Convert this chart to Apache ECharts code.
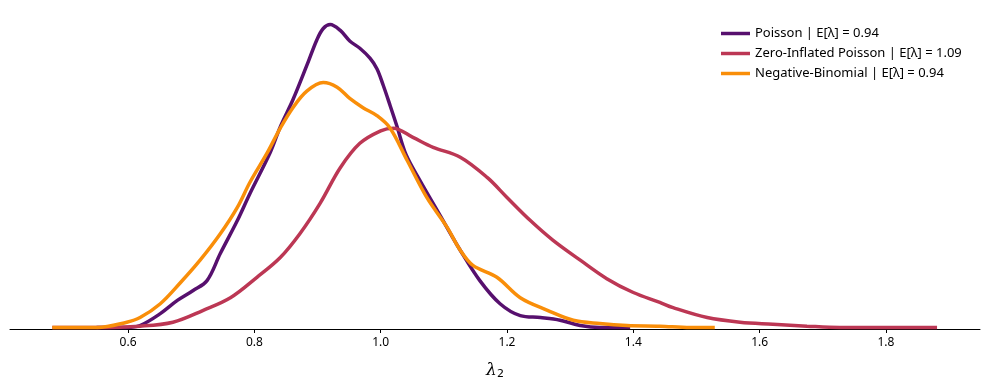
<!DOCTYPE html>
<html lang="en">
<head>
  <meta charset="UTF-8">
  <script src="https://cdn.jsdelivr.net/npm/echarts@6/dist/echarts.min.js"></script>
</head>
<body style="margin:0">
<div id="main" style="width:989px;height:390px;"></div>

<script>
  // kde curves
  var poissonX = [0.55, 0.598, 0.619, 0.651, 0.678, 0.703, 0.725, 0.746, 0.773, 0.793, 0.825, 0.841, 0.861, 0.883, 0.899, 0.909, 0.920, 0.936, 0.951, 0.967, 0.983, 0.994, 1.004, 1.015, 1.026, 1.040, 1.062, 1.094, 1.126, 1.157, 1.189, 1.221, 1.253, 1.284, 1.316, 1.347, 1.395];
  var poissonY = [0, 0, 0.03, 0.21, 0.41, 0.56, 0.71, 1.12, 1.62, 2.03, 2.65, 3.04, 3.45, 3.97, 4.36, 4.53, 4.59, 4.50, 4.34, 4.23, 4.08, 3.92, 3.67, 3.36, 3.04, 2.62, 2.23, 1.70, 1.17, 0.71, 0.36, 0.18, 0.15, 0.11, 0.03, 0, 0];

  var zipX = [0.480, 0.551, 0.619, 0.671, 0.719, 0.762, 0.804, 0.841, 0.872, 0.904, 0.936, 0.967, 1.000, 1.020, 1.051, 1.083, 1.126, 1.169, 1.200, 1.237, 1.273, 1.316, 1.358, 1.400, 1.442, 1.463, 1.517, 1.569, 1.621, 1.675, 1.727, 1.881];
  var zipY = [0, 0, 0.02, 0.08, 0.26, 0.45, 0.76, 1.06, 1.42, 1.88, 2.42, 2.79, 2.98, 3.02, 2.88, 2.73, 2.58, 2.27, 1.97, 1.62, 1.32, 1.02, 0.74, 0.53, 0.38, 0.30, 0.15, 0.08, 0.05, 0.02, 0, 0];

  var nbX = [0.480, 0.551, 0.598, 0.619, 0.651, 0.682, 0.714, 0.746, 0.773, 0.793, 0.820, 0.841, 0.861, 0.883, 0.909, 0.931, 0.951, 0.972, 0.994, 1.015, 1.042, 1.073, 1.105, 1.126, 1.146, 1.184, 1.221, 1.264, 1.305, 1.347, 1.390, 1.442, 1.490, 1.529];
  var nbY = [0, 0, 0.08, 0.15, 0.36, 0.67, 1.02, 1.42, 1.82, 2.20, 2.64, 3.02, 3.33, 3.58, 3.71, 3.64, 3.47, 3.33, 3.21, 3.02, 2.53, 1.97, 1.52, 1.17, 0.94, 0.76, 0.45, 0.26, 0.11, 0.06, 0.03, 0.02, 0, 0];

  var names = ['Poisson | E[λ] = 0.94', 'Zero-Inflated Poisson | E[λ] = 1.09', 'Negative-Binomial | E[λ] = 0.94'];
  var colors = ['#57106e', '#bc3754', '#f98e09'];
  var tickVals = [0.6, 0.8, 1.0, 1.2, 1.4, 1.6, 1.8];

  function pairs(xs, ys){
    var out = [];
    for (var i = 0; i < xs.length; i++){
      out.push([xs[i], ys[i]]);
    }
    return out;
  }

  var main = echarts.init(document.querySelector('#main'));
  var font = 'Noto Sans';

  function line(name, data, color){
    return {
      name: name,
      type: 'line',
      data: data,
      smooth: 0.35,
      symbol: 'none',
      lineStyle: {color: color, width: 3.5},
      itemStyle: {color: color}
    };
  }

  main.setOption({
    animation: false,
    grid: {left: 10, right: 9, top: 10, bottom: 61},
    legend: {
      data: names,
      orient: 'vertical',
      left: 716,
      top: 22,
      icon: 'path://M0,0 L30,0 L30,3.6 L0,3.6 Z',
      itemWidth: 29,
      itemHeight: 14,
      itemGap: 7,
      itemTextGap: 13,
      textStyle: {fontFamily: font, fontSize: 13, color: '#000'}
    },
    xAxis: {
      type: 'value',
      min: 0.413,
      max: 1.949,
      name: '{a|λ}{b|2}',
      nameLocation: 'middle',
      nameGap: 32,
      nameTextStyle: {
        rich: {
          a: {fontFamily: 'DejaVu Serif', fontStyle: 'italic', fontSize: 17, color: '#000'},
          b: {fontFamily: 'DejaVu Sans', fontSize: 11, color: '#000', padding: [8, 0, 0, 0]}
        }
      },
      splitLine: {show: false},
      axisLine: {onZero: false, lineStyle: {color: '#000', width: 1}},
      axisTick: {customValues: tickVals, length: 4, lineStyle: {color: '#000'}},
      axisLabel: {
        customValues: tickVals,
        margin: 8,
        fontFamily: font,
        fontSize: 12,
        color: '#000',
        formatter: function(v){ return v.toFixed(1); }
      }
    },
    yAxis: {type: 'value', min: -0.023, max: 4.81, show: false},
    series: [
      line(names[0], pairs(poissonX, poissonY), colors[0]),
      line(names[1], pairs(zipX, zipY), colors[1]),
      line(names[2], pairs(nbX, nbY), colors[2])
    ]
  });
</script>
</body>
</html>
